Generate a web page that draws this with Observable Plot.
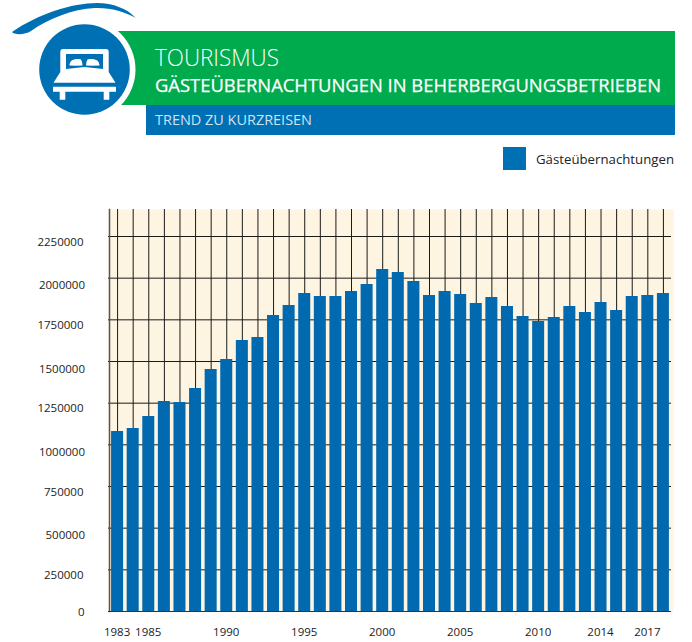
<!DOCTYPE html>
<html lang="de">
<head>
<meta charset="utf-8">
<script src="https://cdn.jsdelivr.net/npm/d3@7"></script>
<script src="https://cdn.jsdelivr.net/npm/@observablehq/plot@0.6"></script>
<style>
html,body{margin:0;padding:0;background:#fff;}
#page{position:relative;width:692px;height:642px;overflow:hidden;font-family:"Open Sans",sans-serif;}
#head{position:absolute;left:0;top:0;}
#chart{position:absolute;left:0;top:200px;}
#chart svg{display:block;}
</style>
</head>
<body>
<div id="page">
<svg id="head" width="692" height="200" viewBox="0 0 692 200">
  <path d="M12 32C38 14 72 3 97 3C113 3 128 9 135.5 18C125 11.5 110 7.5 95 8C72 9 48 19 31 31C25 35 14 35 12 32Z" fill="#0070b5"/>
  <rect x="118" y="31" width="557" height="74" fill="#00ab4e"/>
  <rect x="146" y="105" width="529" height="30" fill="#0070b5"/>
  <circle cx="84.5" cy="69.5" r="51" fill="#fff"/>
  <circle cx="84.5" cy="69.5" r="45.3" fill="#0070b5"/>
  <path fill="#fff" fill-rule="evenodd" d="M63 49H106Q108.700 49 108.700 52V72L115.500 82.700H53.500L60.300 72V52Q60.300 49 63 49ZM66 54V69L84.500 67L103 69V54Z"/>
  <path fill="#fff" d="M69.500 65.500C69.500 60 75 58 81 59.500Q82.500 62 82.500 65.500L76 65.700ZM86 65.500Q86 62 87.500 59.500C94 58 99.500 60 99.500 65.500L92 65.700Z"/>
  <path fill="#fff" d="M53 86.700H116V91.700H109.300V99.700H103.700V91.700H65.300V99.700H59.700V91.700H53Z"/>
  <text x="155" y="66" font-family="Open Sans" font-weight="300" font-size="23" fill="#fff" textLength="124" lengthAdjust="spacingAndGlyphs">TOURISMUS</text>
  <text x="155" y="91.500" font-family="Open Sans" font-weight="400" font-size="18.500" fill="#fff" stroke="#fff" stroke-width="0.25" textLength="506" lengthAdjust="spacingAndGlyphs">GÄSTEÜBERNACHTUNGEN IN BEHERBERGUNGSBETRIEBEN</text>
  <text x="155" y="124.500" font-family="Open Sans" font-weight="400" font-size="14.500" fill="#cfe2f2" textLength="157" lengthAdjust="spacingAndGlyphs">TREND ZU KURZREISEN</text>
  <rect x="503" y="147" width="23" height="23" fill="#0070b5"/>
  <text x="536" y="164" font-family="Open Sans" font-size="12.500" fill="#222" textLength="138" lengthAdjust="spacingAndGlyphs">Gästeübernachtungen</text>
</svg>
<div id="chart"></div>
</div>
<script>
const years = d3.range(1983, 2019);
const overnightStays = [
  1080000, 1098000, 1170000, 1260000, 1254000, 1338000, 1452000, 1512000, 1626000,
  1644000, 1776000, 1836000, 1908000, 1890000, 1890000, 1920000, 1962000, 2052000,
  2034000, 1980000, 1896000, 1920000, 1902000, 1848000, 1884000, 1830000, 1770000,
  1740000, 1764000, 1830000, 1794000, 1854000, 1806000, 1890000, 1896000, 1908000
];
const xTickYears = [1983, 1985, 1990, 1995, 2000, 2005, 2010, 2014, 2017];
const yGrid = [250000, 500000, 750000, 1000000, 1250000, 1500000, 1750000, 2000000, 2250000];
const yLabelsA = [2250000, 1750000, 1250000, 750000, 250000];
const yLabelsB = [2000000, 1500000, 1000000, 500000];
const yLabelsC = [0];

const rows = years.map((year, i) => ({year, value: overnightStays[i]}));
const font = "Open Sans";
const ink = "#222";

const plot = Plot.plot({
  width: 692,
  height: 442,
  marginTop: 9,
  marginBottom: 31,
  marginLeft: 108,
  marginRight: 19,
  style: {background: "transparent", fontFamily: font, fontSize: "11.5px", color: ink},
  x: {type: "band", domain: years, padding: 0.23, round: false, label: null, axis: null},
  y: {domain: [0, 2412000], label: null, axis: null},
  marks: [
    Plot.frame({fill: "#fdf5e1", stroke: "none"}),
    Plot.ruleX(years, {x: d => d, dx: -0.5, stroke: "#1a1a1a", strokeWidth: 1}),
    Plot.ruleY(yGrid, {y: d => d, stroke: "#1a1a1a", strokeWidth: 1, insetRight: 2}),
    Plot.frame({anchor: "left", stroke: "#555", strokeWidth: 1.5, insetLeft: 1}),
    Plot.barY(rows, {x: "year", y: "value", dx: -0.5, fill: "#0069b0"}),
    Plot.ruleY([0], {stroke: "#333", strokeWidth: 1.2, insetRight: 2}),
    Plot.axisX({anchor: "bottom", ticks: xTickYears, tickSize: 0, tickPadding: 16, dx: -1, tickFormat: d => String(d), label: null, fontSize: 11.5, fill: ink}),
    Plot.text(yLabelsA, {y: d => d, text: d => String(d), frameAnchor: "left", dx: -25, dy: 5.5, textAnchor: "end", fill: ink, fontSize: 11.5}),
    Plot.text(yLabelsB, {y: d => d, text: d => String(d), frameAnchor: "left", dx: -23.5, dy: 7.5, textAnchor: "end", fill: ink, fontSize: 11.5}),
    Plot.text(yLabelsC, {y: d => d, text: d => String(d), frameAnchor: "left", dx: -24, dy: 1, textAnchor: "end", fill: ink, fontSize: 11.5})
  ]
});
document.getElementById("chart").appendChild(plot);
</script>
</body>
</html>
